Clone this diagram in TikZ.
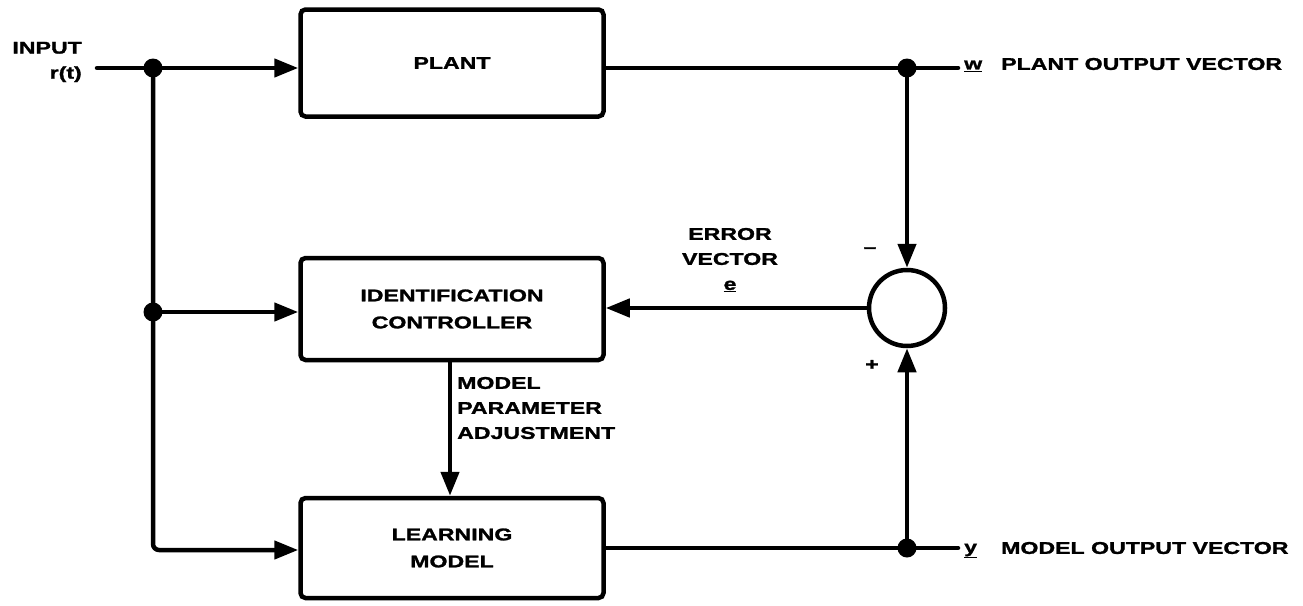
\documentclass[tikz,border=0pt]{standalone}
\usepackage{fontspec}
\setmainfont{Liberation Sans}[FakeStretch=1.36,BoldFeatures={FakeBold=1.5}]
\usetikzlibrary{arrows.meta}
\tikzset{
  x=1pt,y=-1pt,
  wire/.style={line width=4.5pt,line cap=round,line join=round},
  arr/.style={wire,-{Triangle[length=24pt,width=18pt]}},
  blk/.style={draw,line width=4.5pt,rounded corners=5pt,minimum width=303pt,align=center,font=\fontsize{17}{27}\selectfont\bfseries},
  lbl/.style={font=\fontsize{17}{25}\selectfont\bfseries,inner sep=0pt},
  dot/.style={circle,fill,inner sep=0pt,minimum size=19pt},
}
\begin{document}
\begin{tikzpicture}
\useasboundingbox (0,0) rectangle (1303,605);
% blocks
\node[blk,minimum height=107pt] (plant) at (452,63) {PLANT};
\node[blk,minimum height=102pt] (idc) at (452,309) {IDENTIFICATION\\CONTROLLER};
\node[blk,minimum height=100pt] (lm) at (452,548) {LEARNING\\MODEL};
\node[draw,circle,line width=4.5pt,minimum size=76pt,inner sep=0pt] (sum) at (907,308) {};
% junctions
\node[dot] (j1) at (153,68) {};
\node[dot] (j2) at (153,312) {};
\node[dot] (jw) at (907,68) {};
\node[dot] (jy) at (907,548) {};
\coordinate (in) at (97,68);
\coordinate (wend) at (958,68);
\coordinate (yend) at (958,548);
\coordinate (corner) at (153,550);
% wires
\draw[wire] (in) -- (j1.center);
\draw[arr] (j1.center) -- (plant.west |- j1);
\draw[arr,rounded corners=6pt] (j1.center) -- (corner) -- (lm.west |- corner);
\draw[arr] (j2.center) -- (idc.west |- j2);
\draw[wire] (plant.east |- jw) -- (wend);
\draw[wire] (lm.east |- jy) -- (yend);
\draw[arr] (jw.center) -- (sum.north);
\draw[arr] (jy.center) -- (sum.south);
\draw[arr] (sum.west) -- (sum.west -| idc.east);
\draw[arr] (idc.south -| 450,0) -- (lm.north -| 450,0);
% labels
\node[lbl,align=right,anchor=east] (inlbl) at (82,62) {INPUT\\r(t)};
\node[lbl,anchor=west] (wl) at (964,66) {\underline{w}};
\node[lbl,anchor=west] (wtxt) at (1001,64) {PLANT OUTPUT VECTOR};
\node[lbl,anchor=west] (yl) at (964,551) {\underline{y}};
\node[lbl,anchor=west] (ytxt) at (1001,548) {MODEL OUTPUT VECTOR};
\node[lbl,align=center] (err) at (730,260) {ERROR\\VECTOR\\\underline{e}};
\node[lbl,align=left,anchor=west] (mpa) at (457,408) {MODEL\\PARAMETER\\ADJUSTMENT};
\node[lbl] (minus) at (870,250) {--};
\node[lbl] (plus) at (872,365) {+};
\end{tikzpicture}
\end{document}
